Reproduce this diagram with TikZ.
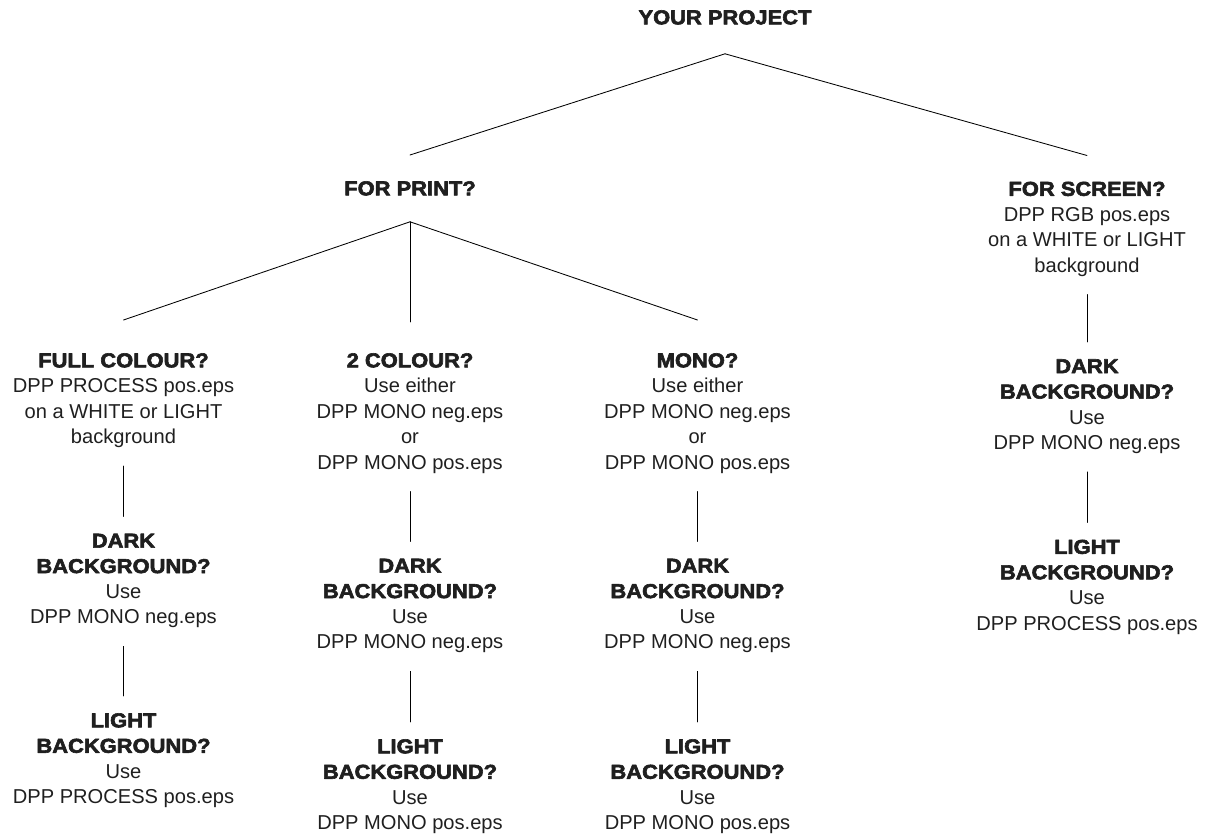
\documentclass[tikz,border=0pt]{standalone}
\usepackage{fontspec}
\setmainfont{Liberation Sans}
\newfontfamily\headfont{Liberation Sans Bold}[FakeBold=3,FakeStretch=1.09]
\usepackage{tikz}
\usetikzlibrary{calc}

\begin{document}
\begin{tikzpicture}[line cap=round,line join=round,x=0.025cm,y=-0.025cm,
  box/.style={align=center,anchor=north,inner sep=0pt,text=black!88,
    font=\fontsize{14.3pt}{18.1pt}\selectfont},
  link/.style={line width=0.6pt,color=black}]
\path[use as bounding box] (0,0) rectangle (1216,834);
% top of the tree
\node[box] (proj) at (725,10) {\headfont YOUR PROJECT};
\node[box] (print) at (410,181) {\headfont FOR PRINT?};
\node[box] (screen) at (1087,181.5) {\headfont FOR SCREEN?\\DPP RGB pos.eps\\on a WHITE or LIGHT\\background};
% print columns
\node[box] (full) at (123.5,353) {\headfont FULL COLOUR?\\DPP PROCESS pos.eps\\on a WHITE or LIGHT\\background};
\node[box] (two) at (410,353) {\headfont 2 COLOUR?\\Use either\\DPP MONO neg.eps\\or\\DPP MONO pos.eps};
\node[box] (mono) at (697.5,353) {\headfont MONO?\\Use either\\DPP MONO neg.eps\\or\\DPP MONO pos.eps};
% dark backgrounds
\node[box] (fulldark) at (123.5,533.5) {\headfont DARK\\\headfont BACKGROUND?\\Use\\DPP MONO neg.eps};
\node[box] (twodark) at (410,558.5) {\headfont DARK\\\headfont BACKGROUND?\\Use\\DPP MONO neg.eps};
\node[box] (monodark) at (697.5,558.5) {\headfont DARK\\\headfont BACKGROUND?\\Use\\DPP MONO neg.eps};
\node[box] (screendark) at (1087,359) {\headfont DARK\\\headfont BACKGROUND?\\Use\\DPP MONO neg.eps};
% light backgrounds
\node[box] (fulllight) at (123.5,713) {\headfont LIGHT\\\headfont BACKGROUND?\\Use\\DPP PROCESS pos.eps};
\node[box] (twolight) at (410,739) {\headfont LIGHT\\\headfont BACKGROUND?\\Use\\DPP MONO pos.eps};
\node[box] (monolight) at (697.5,739) {\headfont LIGHT\\\headfont BACKGROUND?\\Use\\DPP MONO pos.eps};
\node[box] (screenlight) at (1087,539.5) {\headfont LIGHT\\\headfont BACKGROUND?\\Use\\DPP PROCESS pos.eps};
% forks
\draw[link] ($(proj.south)+(0,29)$) coordinate (projfork) -- ($(print.north)+(0,-26)$);
\draw[link] (projfork) -- ($(screen.north)+(0,-26)$);
\draw[link] ($(print.south)+(0,26)$) coordinate (printfork) -- ($(full.north)+(0,-33)$);
\draw[link] (printfork) -- ($(two.north)+(0,-31)$);
\draw[link] (printfork) -- ($(mono.north)+(0,-33)$);
% straight links
\foreach \a/\b in {full/fulldark,fulldark/fulllight,two/twodark,twodark/twolight,
  mono/monodark,monodark/monolight,screen/screendark,screendark/screenlight}
  \draw[link] ($(\a.south)+(0,18)$) -- ($(\b.north)+(0,-17)$);
\end{tikzpicture}
\end{document}
